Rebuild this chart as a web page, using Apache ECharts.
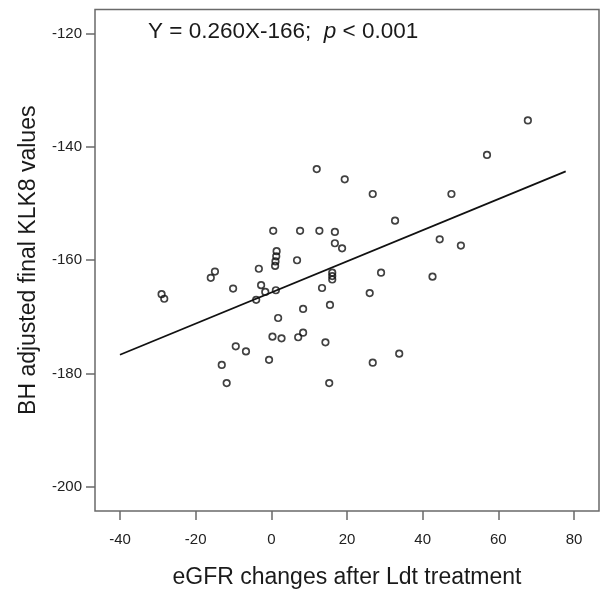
<!DOCTYPE html>
<html>
<head>
<meta charset="utf-8">
<script src="https://cdn.jsdelivr.net/npm/echarts@6/dist/echarts.min.js"></script>
<style>html,body{margin:0;padding:0;background:#fff}#c{width:600px;height:594px}</style>
</head>
<body>
<div id="c"></div>
<script>
// eGFR change (x) and BH adjusted final KLK8 (y)
const egfrChange = [0.5,7.6,12.7,16.8,16.8,18.7,1.4,1.3,1.1,1.0,6.8,-3.3,-14.9,-16.0,16.1,16.1,16.1,13.4,-10.1,-2.7,-1.6,1.2,-4.0,-29.0,-28.3,15.5,8.4,1.8,0.3,2.7,7.1,8.4,14.3,-9.4,-6.7,-0.6,-13.1,-11.8,15.3,12.0,19.4,26.8,47.6,32.7,44.5,50.1,29.0,42.6,26.0,33.8,26.8,67.8,57.0];
const klk8Final = [-154.8,-154.8,-154.8,-155.0,-157.0,-157.9,-158.4,-159.3,-160.2,-161.0,-160.0,-161.5,-162.0,-163.1,-162.2,-162.8,-163.4,-164.9,-165.0,-164.4,-165.6,-165.3,-167.0,-166.0,-166.8,-167.9,-168.6,-170.2,-173.5,-173.8,-173.6,-172.8,-174.5,-175.2,-176.1,-177.6,-178.5,-181.7,-181.7,-143.9,-145.7,-148.3,-148.3,-153.0,-156.3,-157.4,-162.2,-162.9,-165.8,-176.5,-178.1,-135.3,-141.4];
const fitX = [-40, 77.8];
const fitY = [-176.7, -144.3];
const xTicks = [-40,-20,0,20,40,60,80];
const yTicks = [-200,-180,-160,-140,-120];

const chart = echarts.init(document.getElementById('c'), null, {renderer:'canvas'});
const font = 'Liberation Sans, Arial, sans-serif';
chart.setOption({
  animation:false,
  grid:{left:95, right:1, top:9.5, bottom:82, show:true, borderColor:'#6a6a6a', borderWidth:1.5, backgroundColor:'#fff'},
  xAxis:{
    type:'value', min:-46.6, max:86.6,
    name:'eGFR changes after Ldt treatment', nameLocation:'middle', nameGap:55,
    nameTextStyle:{fontFamily:font, fontSize:23, color:'#1a1a1a'},
    axisLine:{show:false, onZero:false},
    axisTick:{show:true, length:9, customValues:xTicks, lineStyle:{color:'#6a6a6a', width:1.5}},
    axisLabel:{customValues:xTicks, margin:21, fontFamily:font, fontSize:15, color:'#222'},
    splitLine:{show:false}
  },
  yAxis:{
    type:'value', min:-204.3, max:-115.7,
    name:'BH adjusted final KLK8 values', nameLocation:'middle', nameGap:55,
    nameTextStyle:{fontFamily:font, fontSize:23, color:'#1a1a1a'},
    axisLine:{show:false, onZero:false},
    axisTick:{show:true, length:9, customValues:yTicks, lineStyle:{color:'#6a6a6a', width:1.5}},
    axisLabel:{customValues:yTicks, margin:13, fontFamily:font, fontSize:15, color:'#222'},
    splitLine:{show:false}
  },
  graphic:[{
    type:'text', left:148, top:20,
    style:{
      text:'Y = 0.260X-166;  {i|p} < 0.001',
      rich:{i:{fontStyle:'italic', fontFamily:font, fontSize:22.5, fill:'#1a1a1a'}},
      fontFamily:font, fontSize:22.5, fill:'#1a1a1a'
    }
  }],
  series:[
    {
      type:'line', data:fitX.map((x,i)=>[x,fitY[i]]), symbol:'none',
      lineStyle:{color:'#111', width:1.8}, z:2
    },
    {
      type:'scatter', data:egfrChange.map((x,i)=>[x,klk8Final[i]]),
      symbol:'circle', symbolSize:6.5,
      itemStyle:{color:'rgba(0,0,0,0)', borderColor:'#111', borderWidth:1.7}, z:3
    }
  ]
});
</script>
</body>
</html>
